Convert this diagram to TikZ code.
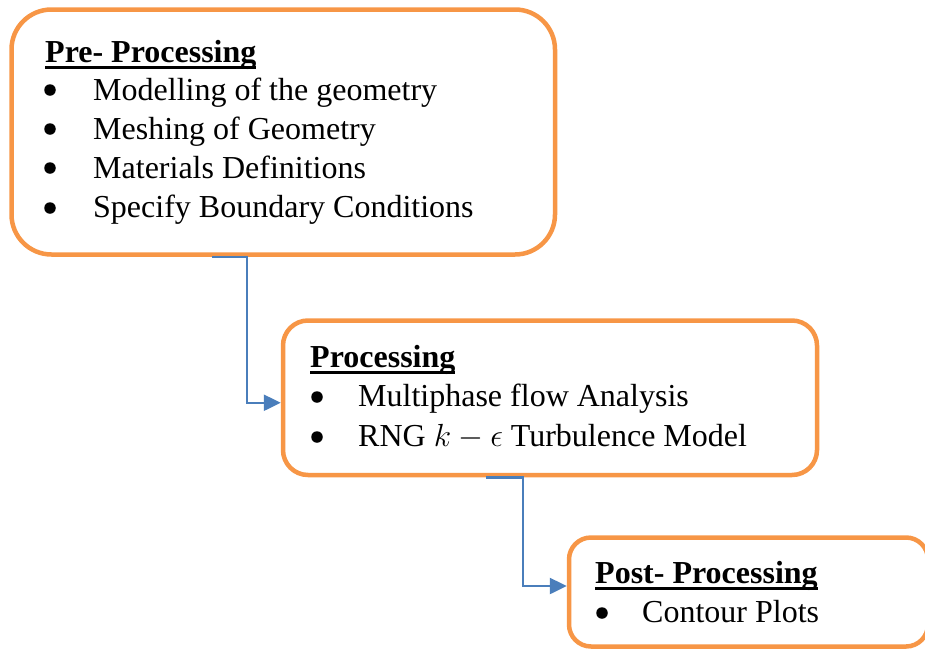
\RequirePackage{fix-cm}
\documentclass[tikz,border=0pt]{standalone}
\usepackage{fontspec}
\setmainfont{Liberation Serif}
\usetikzlibrary{arrows.meta}
\definecolor{boxorange}{HTML}{F79646}
\definecolor{linkblue}{HTML}{4A7EBB}
\newcommand\ulbf[1]{\setbox0\hbox{\bfseries #1}\rlap{\rule[-7pt]{\wd0}{3pt}}\box0}
\tikzset{
  stagebox/.style={draw=boxorange, line width=4.5pt, fill=white, rectangle, inner sep=0pt},
  txt/.style={anchor=base west, inner sep=0pt, font=\fontsize{32}{38}\selectfont},
  bul/.style={circle, fill=black, inner sep=0pt, minimum size=11.5pt},
  link/.style={draw=linkblue, line width=2.5pt, -{Triangle[length=17pt,width=16pt]}}
}
\begin{document}
\begin{tikzpicture}[x=1pt,y=-1pt]
\useasboundingbox (0,0) rectangle (925,648);
\clip (0,0) rectangle (925,648);
% boxes
\node[stagebox, rounded corners=40pt, minimum width=543.5pt, minimum height=245pt] (box1) at (283.25,132) {};
\node[stagebox, rounded corners=25pt, minimum width=534pt, minimum height=154.5pt] (box2) at (550,397.75) {};
\node[stagebox, rounded corners=22pt, minimum width=359pt, minimum height=109pt] (box3) at (748.5,592) {};
% box 1 text
\node[txt] (t1) at (45,62) {\ulbf{Pre- Processing}};
\node[bul] (b11) at (50,90) {};
\node[txt] (i11) at (93,100) {Modelling of the geometry};
\node[bul] (b12) at (50,129) {};
\node[txt] (i12) at (93,139) {Meshing of Geometry};
\node[bul] (b13) at (50,168) {};
\node[txt] (i13) at (93,178) {Materials Definitions};
\node[bul] (b14) at (50,208) {};
\node[txt] (i14) at (93,217) {Specify Boundary Conditions};
% box 2 text
\node[txt] (t2) at (310,367) {\ulbf{Processing}};
\node[bul] (b21) at (317,397) {};
\node[txt] (i21) at (358,406) {Multiphase flow Analysis};
\node[bul] (b22) at (317,437) {};
\node[txt] (i22) at (358,446) {RNG $k-\epsilon$ Turbulence Model};
% box 3 text
\node[txt] (t3) at (595,583) {\ulbf{Post- Processing}};
\node[bul] (b31) at (602,613) {};
\node[txt] (i31) at (642,622) {Contour Plots};
% connectors
\coordinate (s1) at ([xshift=202.5pt]box1.south west);
\coordinate (s2) at ([xshift=205pt]box2.south west);
\draw[link] (s1) -- ++(35,0) |- ([yshift=-5pt]box2.west);
\draw[link] (s2) -- ++(37,0) |- ([yshift=6pt]box3.west);
\end{tikzpicture}
\end{document}
